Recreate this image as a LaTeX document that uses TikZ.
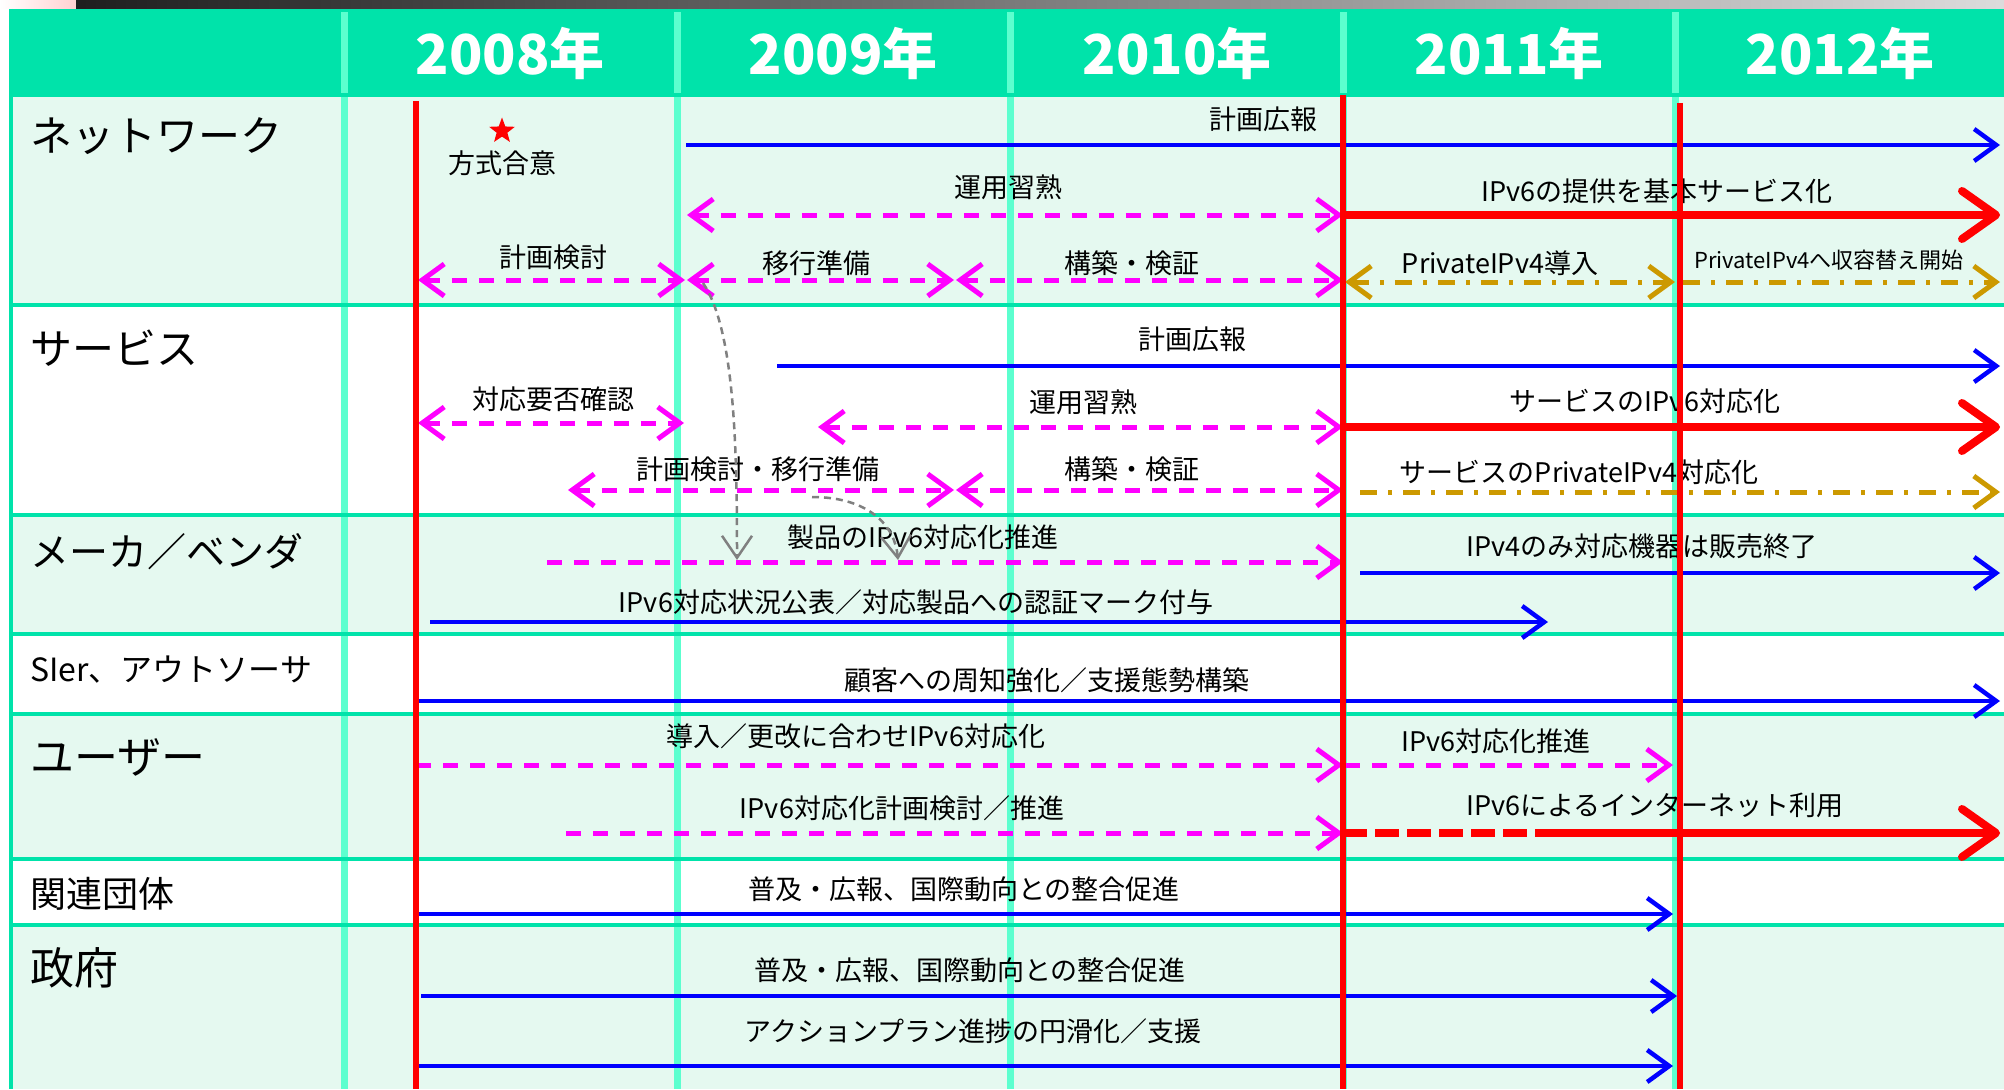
\documentclass[tikz,border=0pt]{standalone}
\usepackage{fontspec}
\setmainfont{Noto Sans CJK JP}
\usetikzlibrary{arrows.meta,shapes.geometric}
\definecolor{hdr}{HTML}{00E3AA}
\definecolor{mint}{HTML}{E5F9F0}
\definecolor{colline}{HTML}{5CFFCF}
\definecolor{gold}{HTML}{CC9900}
\definecolor{mag}{HTML}{FF00FF}
\definecolor{blu}{HTML}{0000FF}
\definecolor{grayarr}{HTML}{808080}
\tikzset{
  lbl/.style={font=\fontsize{27pt}{30pt}\selectfont, inner sep=0pt, text=black},
  lblsmall/.style={font=\fontsize{22pt}{25pt}\selectfont, inner sep=0pt, text=black},
  rowlbl/.style={font=\fontsize{42pt}{46pt}\selectfont, inner sep=0pt, anchor=west, text=black},
  yearlbl/.style={font=\fontsize{55pt}{60pt}\selectfont\bfseries, text=white, inner sep=0pt},
  barb/.tip={Straight Barb[length=22pt,width=32pt]},
  bigbarb/.tip={Straight Barb[length=34pt,width=48pt,round]},
  graybarb/.tip={Straight Barb[length=22pt,width=30pt]},
  bluearr/.style={draw=blu, line width=4.5pt, -barb},
  magline/.style={draw=mag, line width=5pt, dash pattern=on 15pt off 12pt},
  magone/.style={magline, -barb},
  magtwo/.style={magline, barb-barb},
  goldline/.style={draw=gold, line width=5pt, dash pattern=on 17pt off 11pt on 4pt off 11pt},
  goldone/.style={goldline, -barb},
  goldtwo/.style={goldline, barb-barb},
  redthick/.style={draw=red, line width=8pt, -bigbarb},
  reddash/.style={draw=red, line width=8pt, dash pattern=on 24pt off 8pt},
  grayarrow/.style={draw=grayarr, line width=2.5pt, dash pattern=on 7pt off 5pt, -graybarb},
  redvert/.style={draw=red, line width=6pt},
  colv/.style={draw=colline, line width=7pt},
  rowh/.style={draw=hdr, line width=4pt},
}
\begin{document}
\begin{tikzpicture}[x=1pt,y=-1pt]
\useasboundingbox (0,0) rectangle (2004,1089);
% top bar
\shade[left color=white, right color=red!18] (0,0) rectangle (76,9);
\shade[left color=black!88, right color=black!14] (76,0) rectangle (2004,9);
% header and row backgrounds
\fill[hdr] (9,9) rectangle (2004,95);
\fill[mint] (9,95) rectangle (2004,305);
\fill[white] (9,305) rectangle (2004,515);
\fill[mint] (9,515) rectangle (2004,634);
\fill[white] (9,634) rectangle (2004,714);
\fill[mint] (9,714) rectangle (2004,859);
\fill[white] (9,859) rectangle (2004,925);
\fill[mint] (9,925) rectangle (2004,1089);
% column lines
\foreach \cx in {344.5,677.5,1010,1343,1675} {
  \draw[colv] (\cx,12) -- (\cx,1089);
}
% row lines
\foreach \ry in {95,305,515,634,714,859,925} {
  \draw[rowh] (9,\ry) -- (2004,\ry);
}
\draw[rowh] (11,9) -- (11,1089);

% years
\node[yearlbl] (y2008) at (510,53) {2008年};
\node[yearlbl] (y2009) at (843,53) {2009年};
\node[yearlbl] (y2010) at (1177,53) {2010年};
\node[yearlbl] (y2011) at (1509,53) {2011年};
\node[yearlbl] (y2012) at (1840,53) {2012年};

% row labels
\node[rowlbl] (rnet) at (30,136) {ネットワーク};
\node[rowlbl] (rsvc) at (30,348) {サービス};
\node[rowlbl, font=\fontsize{39pt}{44pt}\selectfont] (rmkr) at (30,552) {メーカ／ベンダ};
\node[rowlbl, font=\fontsize{32pt}{36pt}\selectfont] (rsier) at (30,670) {SIer、アウトソーサ};
\node[rowlbl, font=\fontsize{44pt}{48pt}\selectfont] (rusr) at (30,757) {ユーザー};
\node[rowlbl, font=\fontsize{36pt}{40pt}\selectfont] (rorg) at (30,894) {関連団体};
\node[rowlbl, font=\fontsize{44pt}{48pt}\selectfont] (rgov) at (30,968) {政府};

% ---- network row ----
\node[star, star points=5, star point ratio=2.4, fill=red, minimum size=27pt, inner sep=0pt] (star) at (502,131) {};
\node[lbl] (t_hoshiki) at (502,163) {方式合意};

\coordinate (n1a) at (686,145); \coordinate (n1b) at (2000,145);
\draw[bluearr] (n1a) -- (n1b);
\node[lbl] (t_n1) at (1263,119) {計画広報};

\coordinate (n2a) at (687,215); \coordinate (n2b) at (1343,215);
\draw[magtwo] (n2a) -- (n2b);
\node[lbl] (t_n2) at (1008,187) {運用習熟};

\coordinate (n3a) at (1343,215); \coordinate (n3b) at (2000,215);
\draw[redthick] (n3a) -- (n3b);
\node[lbl] (t_n3) at (1657,191) {IPv6の提供を基本サービス化};

\coordinate (n4a) at (418,280); \coordinate (n4b) at (685,280);
\draw[magtwo] (n4a) -- (n4b);
\node[lbl] (t_n4) at (553,257) {計画検討};

\coordinate (n5a) at (687,280); \coordinate (n5b) at (954,280);
\draw[magtwo] (n5a) -- (n5b);
\node[lbl] (t_n5) at (816,263) {移行準備};

\coordinate (n6a) at (956,280); \coordinate (n6b) at (1343,280);
\draw[magtwo] (n6a) -- (n6b);
\node[lbl] (t_n6) at (1132,263) {構築・検証};

\coordinate (n7a) at (1345,282); \coordinate (n7b) at (1675,282);
\draw[goldtwo] (n7a) -- (n7b);
\node[lbl] (t_n7) at (1500,263) {PrivateIPv4導入};

\coordinate (n8a) at (1683,282); \coordinate (n8b) at (2000,282);
\draw[goldone] (n8a) -- (n8b);
\node[lblsmall] (t_n8) at (1829,260) {PrivateIPv4へ収容替え開始};

% ---- service row ----
\coordinate (s1a) at (777,366); \coordinate (s1b) at (2000,366);
\draw[bluearr] (s1a) -- (s1b);
\node[lbl] (t_s1) at (1192,339) {計画広報};

\coordinate (s2a) at (418,423); \coordinate (s2b) at (684,423);
\draw[magtwo] (s2a) -- (s2b);
\node[lbl] (t_s2) at (553,399) {対応要否確認};

\coordinate (s3a) at (818,427); \coordinate (s3b) at (1343,427);
\draw[magtwo] (s3a) -- (s3b);
\node[lbl] (t_s3) at (1083,402) {運用習熟};

\coordinate (s4a) at (1343,427); \coordinate (s4b) at (2000,427);
\draw[redthick] (s4a) -- (s4b);
\node[lbl] (t_s4) at (1645,401) {サービスのIPv6対応化};

\coordinate (s5a) at (568,490); \coordinate (s5b) at (954,490);
\draw[magtwo] (s5a) -- (s5b);
\node[lbl] (t_s5) at (758,469) {計画検討・移行準備};

\coordinate (s6a) at (956,490); \coordinate (s6b) at (1343,490);
\draw[magtwo] (s6a) -- (s6b);
\node[lbl] (t_s6) at (1132,469) {構築・検証};

\coordinate (s7a) at (1360,492); \coordinate (s7b) at (2000,492);
\draw[goldone] (s7a) -- (s7b);
\node[lbl] (t_s7) at (1579,472) {サービスのPrivateIPv4対応化};

% ---- maker row ----
\coordinate (m1a) at (547,562); \coordinate (m1b) at (1343,562);
\draw[magone] (m1a) -- (m1b);
\node[lbl] (t_m1) at (923,537) {製品のIPv6対応化推進};

\coordinate (m2a) at (1360,573); \coordinate (m2b) at (2000,573);
\draw[bluearr] (m2a) -- (m2b);
\node[lbl] (t_m2) at (1642,546) {IPv4のみ対応機器は販売終了};

\coordinate (m3a) at (430,622); \coordinate (m3b) at (1548,622);
\draw[bluearr] (m3a) -- (m3b);
\node[lbl] (t_m3) at (916,602) {IPv6対応状況公表／対応製品への認証マーク付与};

% gray curved arrows
\coordinate (g1a) at (703,283); \coordinate (g1b) at (737,560);
\draw[grayarrow] (g1a) .. controls (735,330) and (737,450) .. (g1b);
\coordinate (g2a) at (812,497); \coordinate (g2b) at (898,560);
\draw[grayarrow] (g2a) .. controls (868,497) and (895,525) .. (g2b);

% ---- SIer row ----
\coordinate (i1a) at (416,701); \coordinate (i1b) at (2000,701);
\draw[bluearr] (i1a) -- (i1b);
\node[lbl] (t_i1) at (1047,680) {顧客への周知強化／支援態勢構築};

% ---- user row ----
\coordinate (u1a) at (416,765); \coordinate (u1b) at (1343,765);
\draw[magone] (u1a) -- (u1b);
\node[lbl] (t_u1) at (856,736) {導入／更改に合わせIPv6対応化};

\coordinate (u2a) at (1345,765); \coordinate (u2b) at (1673,765);
\draw[magone] (u2a) -- (u2b);
\node[lbl] (t_u2) at (1496,741) {IPv6対応化推進};

\coordinate (u3a) at (566,833); \coordinate (u3b) at (1343,833);
\draw[magone] (u3a) -- (u3b);
\node[lbl] (t_u3) at (902,808) {IPv6対応化計画検討／推進};

\coordinate (u4a) at (1343,833); \coordinate (u4m) at (1553,833); \coordinate (u4b) at (2000,833);
\draw[reddash] (u4a) -- (u4m);
\draw[redthick] (u4m) -- (u4b);
\node[lbl] (t_u4) at (1655,805) {IPv6によるインターネット利用};

% ---- related orgs ----
\coordinate (k1a) at (416,914); \coordinate (k1b) at (1673,914);
\draw[bluearr] (k1a) -- (k1b);
\node[lbl] (t_k1) at (964,889) {普及・広報、国際動向との整合促進};

% ---- government ----
\coordinate (v1a) at (421,996); \coordinate (v1b) at (1677,996);
\draw[bluearr] (v1a) -- (v1b);
\node[lbl] (t_v1) at (970,970) {普及・広報、国際動向との整合促進};

\coordinate (v2a) at (416,1066); \coordinate (v2b) at (1673,1066);
\draw[bluearr] (v2a) -- (v2b);
\node[lbl] (t_v2) at (973,1031) {アクションプラン進捗の円滑化／支援};

% red milestone lines
\coordinate (r1a) at (416,101); \coordinate (r1b) at (416,1089);
\draw[redvert] (r1a) -- (r1b);
\coordinate (r2a) at (1343,95); \coordinate (r2b) at (1343,1089);
\draw[redvert] (r2a) -- (r2b);
\coordinate (r3a) at (1680,103); \coordinate (r3b) at (1680,1089);
\draw[redvert] (r3a) -- (r3b);
\end{tikzpicture}
\end{document}
